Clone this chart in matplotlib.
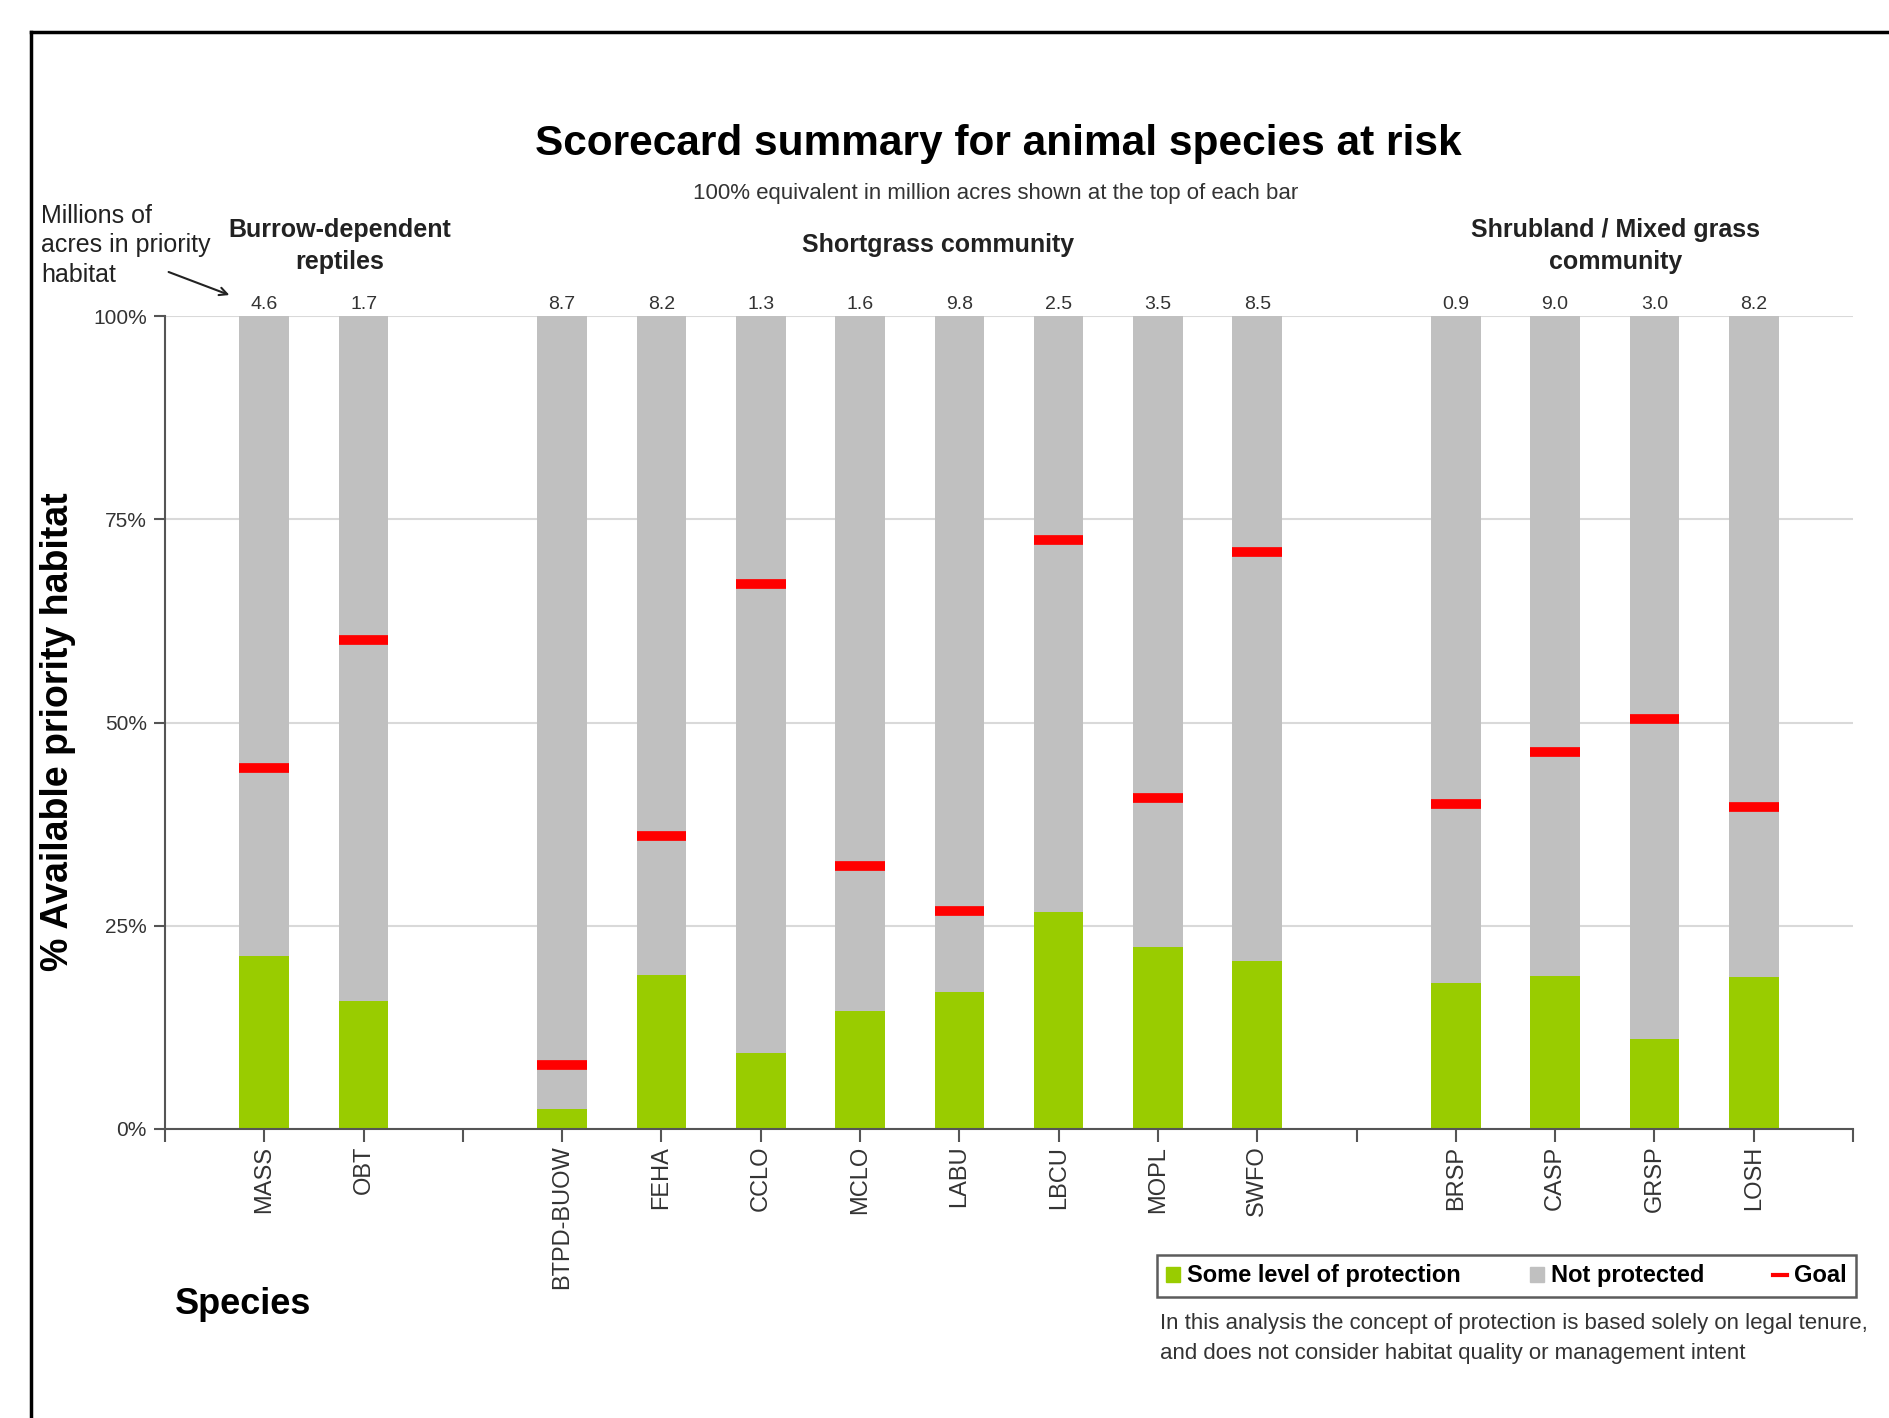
import matplotlib
matplotlib.use("Agg")
import matplotlib.pyplot as plt
from matplotlib.lines import Line2D
from matplotlib.patches import Patch, FancyArrowPatch
import numpy as np

plt.rcParams['font.family'] = ['Liberation Sans', 'DejaVu Sans']

# ---- data ----
species = ["MASS", "OBT", "", "BTPD-BUOW", "FEHA", "CCLO", "MCLO", "LABU",
           "LBCU", "MOPL", "SWFO", "", "BRSP", "CASP", "GRSP", "LOSH"]
protected = [21.3, 15.7, None, 2.4, 19.0, 9.3, 14.5, 16.9,
             26.7, 22.4, 20.7, None, 17.9, 18.8, 11.1, 18.7]
goal = [44.4, 60.1, None, 7.9, 36.1, 67.0, 32.4, 26.8,
        72.4, 40.7, 71.0, None, 40.0, 46.4, 50.4, 39.6]
acres = ["4.6", "1.7", "", "8.7", "8.2", "1.3", "1.6", "9.8",
         "2.5", "3.5", "8.5", "", "0.9", "9.0", "3.0", "8.2"]
groups = ["Burrow-dependent\nreptiles", "Shortgrass community",
          "Shrubland / Mixed grass\ncommunity"]
yticks = [0, 25, 50, 75, 100]
ytick_labels = ["0%", "25%", "50%", "75%", "100%"]

GREEN = "#99CC00"
GREY = "#C0C0C0"
RED = "#FF0000"

W, H = 1890, 1418
fig = plt.figure(figsize=(W / 100, H / 100), dpi=100)
ax = fig.add_axes([165 / W, 1 - 1129 / H, (1853 - 165) / W, (1129 - 316) / H])

x = np.arange(1, len(species) + 1)
bw = 0.5
for xi, p, g in zip(x, protected, goal):
    if p is None:
        continue
    ax.bar(xi, p, width=bw, color=GREEN, zorder=2)
    ax.bar(xi, 100 - p, bottom=p, width=bw, color=GREY, zorder=2)
    ax.plot([xi - bw / 2, xi + bw / 2], [g, g], color=RED, lw=7,
            solid_capstyle='butt', zorder=3)

for xi, a in zip(x, acres):
    if a:
        ax.annotate(a, (xi, 100), xytext=(0, 2), textcoords='offset points',
                    ha='center', va='bottom', fontsize=14, color='#333333')

ax.set_xlim(0, len(species) + 1)
ax.set_ylim(0, 100)
ax.set_xticks(np.arange(0, len(species) + 2))
ax.set_xticklabels([""] + species + [""], rotation=90, fontsize=17,
                   color='#333333')
ax.set_yticks(yticks)
ax.set_yticklabels(ytick_labels, fontsize=15, color='#333333')
ax.tick_params(axis='x', length=9, width=1.5, color='#555555', pad=3)
ax.tick_params(axis='y', length=8, width=1.5, color='#555555', pad=5)
for s in ['top', 'right']:
    ax.spines[s].set_visible(False)
for s in ['left', 'bottom']:
    ax.spines[s].set_color('#555555')
    ax.spines[s].set_linewidth(1.5)
ax.yaxis.grid(True, color='#D9D9D9', lw=1.5, zorder=0)
ax.set_axisbelow(True)

# ---- texts ----
fig.text(998 / W, 1 - 144 / H, "Scorecard summary for animal species at risk",
         ha='center', va='center', fontsize=30.5, fontweight='bold')
fig.text(996 / W, 1 - 194 / H,
         "100% equivalent in million acres shown at the top of each bar",
         ha='center', va='center', fontsize=16, color='#333333')
fig.text(340 / W, 1 - 246 / H, groups[0], ha='center', va='center',
         fontsize=18, fontweight='bold', color='#222222', linespacing=1.4)
fig.text(938 / W, 1 - 245 / H, groups[1], ha='center', va='center',
         fontsize=18, fontweight='bold', color='#222222')
fig.text(1616 / W, 1 - 246 / H, groups[2], ha='center', va='center',
         fontsize=18, fontweight='bold', color='#222222', linespacing=1.4)
fig.text(41 / W, 1 - 204 / H, "Millions of\nacres in priority\nhabitat",
         ha='left', va='top', fontsize=18, color='#222222', linespacing=1.28)
fig.add_artist(FancyArrowPatch(
    (166 / W, 1 - 271 / H), (232 / W, 1 - 296 / H), transform=fig.transFigure,
    arrowstyle='->', mutation_scale=14, lw=1.5, color='#222222'))
fig.text(58 / W, 1 - 732 / H, "% Available priority habitat", rotation=90,
         ha='center', va='center', fontsize=27, fontweight='bold')
fig.text(175 / W, 1 - 1304 / H, "Species", ha='left', va='center',
         fontsize=26, fontweight='bold')
fig.text(1160 / W, 1 - 1313 / H,
         "In this analysis the concept of protection is based solely on legal tenure,\n"
         "and does not consider habitat quality or management intent",
         ha='left', va='top', fontsize=16, color='#333333', linespacing=1.55)

handles = [Patch(color=GREEN), Patch(color=GREY),
           Line2D([], [], color=RED, lw=3)]
labels = ["Some level of protection", "Not protected", "Goal"]
leg = fig.legend(handles, labels, loc='upper right',
                 bbox_to_anchor=(1856 / W, 1 - 1255 / H), borderaxespad=0,
                 ncol=3, frameon=True, fancybox=False, shadow=False,
                 edgecolor='#333333', handlelength=0.6, handleheight=0.6,
                 handletextpad=0.3, columnspacing=2.9, borderpad=0.4,
                 prop={'weight': 'bold', 'size': 17})
leg.get_frame().set_linewidth(1.8)

# figure frame lines
fig.add_artist(Line2D([31 / W, 1], [1 - 32 / H, 1 - 32 / H],
                      transform=fig.transFigure, color='black', lw=2.5))
fig.add_artist(Line2D([31 / W, 31 / W], [0, 1 - 32 / H],
                      transform=fig.transFigure, color='black', lw=2.5))

fig.savefig("out.png", dpi=100, facecolor='white')
